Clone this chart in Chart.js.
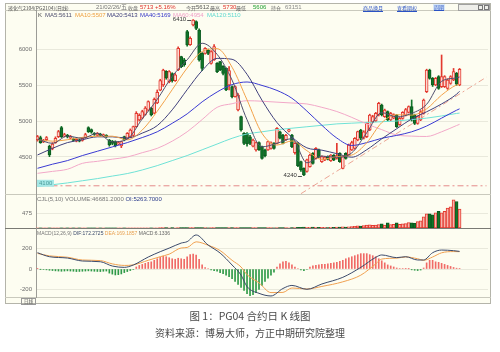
<!DOCTYPE html>
<html>
<head>
<meta charset="utf-8">
<title>PG04 合约日 K 线图</title>
<script src="https://cdn.jsdelivr.net/npm/chart.js@4.4.1/dist/chart.umd.min.js"></script>
<style>
  html, body { margin: 0; padding: 0; background: #fff; }
  body { width: 500px; height: 352px; position: relative; overflow: hidden;
         font-family: "Liberation Sans", Arial, "Noto Sans CJK SC", sans-serif; }
  #frame { position: absolute; left: 5px; top: 3px; width: 484px; height: 299px;
           border: 1px solid #b4b4aa; background: #fdfdf1; }
  .hl { position: absolute; left: 5px; width: 486px; height: 0; border-top: 1px solid #c9c9bd; }
  .hl.dark { border-top-color: #7a7a74; }
  canvas { position: absolute; left: 5px; }
  .t { position: absolute; white-space: nowrap; font-size: 6px; line-height: 6px; color: #666; }
  .c { font-family: "Noto Sans CJK SC", sans-serif; font-size: 5px; }
  .lnk { color: #2a52c4; text-decoration: underline; }
  .cap { position: absolute; left: 0; width: 500px; text-align: center; color: #4a4a4a;
         font-family: "Noto Sans CJK SC", sans-serif; white-space: nowrap; }
</style>
</head>
<body>
<div id="frame"></div>
<div class="hl" style="top:10px"></div>
<div class="hl" style="top:194px"></div>
<div class="hl dark" style="top:228px"></div>
<div class="hl" style="top:297px"></div>

<canvas id="price" width="485" height="184" style="top:10px"></canvas>
<canvas id="vol" width="485" height="34" style="top:194px"></canvas>
<canvas id="macd" width="485" height="75" style="top:228px"></canvas>

<!-- header row -->
<span class="t c" style="left:8px;top:4.5px;color:#555">液化气2104(PG2104)(日线)</span>
<span class="t" style="left:96px;top:4px;color:#777">21/02/26/五</span>
<span class="t c" style="left:128px;top:4.5px">收盘</span>
<span class="t" style="left:140px;top:4px;color:#e0302a">5713 +5.16%</span>
<span class="t c" style="left:186px;top:4.5px">今开</span>
<span class="t" style="left:196px;top:4px;color:#555">5612</span>
<span class="t c" style="left:210px;top:4.5px">最高</span>
<span class="t" style="left:223px;top:4px;color:#e0302a">5730</span>
<span class="t c" style="left:236px;top:4.5px">最低</span>
<span class="t" style="left:253px;top:4px;color:#22a035">5606</span>
<span class="t c" style="left:271px;top:4.5px">持仓</span>
<span class="t" style="left:285px;top:4px;color:#888">63151</span>
<span class="t c lnk" style="left:363px;top:4.5px">商品换月</span>
<span class="t c lnk" style="left:397px;top:4.5px">查看期权</span>
<span class="t c lnk" style="left:433px;top:4px;background:#d8e8f8;padding:0 1px">周期</span>
<div style="position:absolute;left:458px;top:4px;width:30px;height:5px;border:1px solid #a0a0a0;background:#eeeeea"></div>
<div style="position:absolute;left:478px;top:5px;width:3px;height:3px;border:1px solid #777"></div>
<div style="position:absolute;left:484px;top:5px;width:3px;height:3px;border:1px solid #777"></div>

<!-- MA legend -->
<span class="t" style="left:38px;top:12px;color:#444">K</span>
<span class="t" style="left:45px;top:12px;color:#4f4f6e">MA5:5611</span>
<span class="t" style="left:75px;top:12px;color:#efa040">MA10:5507</span>
<span class="t" style="left:107px;top:12px;color:#3d3d7a">MA20:5413</span>
<span class="t" style="left:140px;top:12px;color:#3636c8">MA40:5169</span>
<span class="t" style="left:173px;top:12px;color:#f0a0c8">MA60:4954</span>
<span class="t" style="left:207px;top:12px;color:#5fd8cf">MA120:5110</span>

<!-- panel titles -->
<span class="t" style="left:37px;top:195.5px;color:#777">CJL(5,10) VOLUME:46681.2000 <span style="color:#2b3b8b">OI:5263.7000</span></span>
<span class="t" style="left:37px;top:230px;font-size:5px;color:#777">MACD(12,26,9) <span style="color:#3b4a6b">DIF:172.2725</span> <span style="color:#e8a050">DEA:169.1857</span> <span style="color:#666">MACD:6.1336</span></span>
<div class="t c" style="left:21px;top:297.5px;width:13px;height:5px;line-height:5px;font-size:4.5px;border:1px solid #999;text-align:center;color:#555">日线</div>

<div class="cap" style="top:309px;font-size:10.5px;line-height:13px">图 1：PG04 合约日 K 线图</div>
<div class="cap" style="top:326px;font-size:10px;line-height:13px">资料来源：博易大师，方正中期研究院整理</div>

<script>
// ---- daily bars (142 trading days) ----
const open = [
  4740,4770,4710,4740,4653,4620,4700,4782,4907,4790,
  4800,4760,4750,4720,4740,4730,4770,4907,4880,4830,
  4800,4820,4790,4800,4736,4720,4713,4680,4653,4782,
  4759,4780,4800,4921,5014,5040,5090,5150,5176,5110,
  5250,5430,5500,5690,5547,5660,5560,5708,5894,5850,
  6241,6060,6334,6380,6264,5940,5940,5986,5801,5847,
  5801,5824,5760,5732,5500,5477,5338,5153,5060,4829,
  4829,4780,4650,4597,4700,4644,4600,4597,4620,4690,
  4690,4850,4806,4740,4860,4806,4560,4690,4435,4343,
  4300,4366,4551,4481,4600,4435,4460,4505,4450,4528,
  4480,4551,4343,4551,4528,4600,4620,4736,4875,4760,
  4782,4875,4991,5000,5083,5222,5060,5130,5014,5040,
  5083,4950,5037,5080,5120,5199,5083,4968,5014,5107,
  5407,5708,5593,5500,5616,5477,5477,5454,5523,5570,
  5662,5500];
const close = [
  4782,4700,4730,4770,4530,4680,4760,4852,4782,4810,
  4780,4790,4730,4745,4720,4760,4810,4852,4845,4815,
  4825,4800,4810,4780,4667,4690,4653,4700,4713,4736,
  4830,4875,4921,5107,5080,5130,5180,5269,5083,5300,
  5400,5560,5709,5600,5686,5560,5640,6010,5755,5780,
  6056,6150,6403,6287,5847,5732,6010,5940,5963,6033,
  5686,5709,5660,5431,5700,5338,5477,5361,4875,4690,
  4680,4690,4736,4700,4600,4481,4520,4713,4700,4620,
  4898,4760,4690,4800,4880,4644,4690,4380,4319,4250,
  4460,4528,4412,4620,4500,4505,4500,4470,4528,4460,
  4520,4435,4505,4481,4667,4700,4759,4852,4760,4850,
  4968,5083,5060,5107,5245,5083,5153,5014,5107,5090,
  4921,5037,5120,5160,5199,5014,4968,5060,5130,5292,
  5708,5593,5500,5593,5454,5616,5616,5570,5616,5685,
  5510,5718];
const high = [
  4800,4790,4745,4785,4665,4700,4780,4870,4925,4830,
  4815,4800,4765,4755,4750,4770,4830,4920,4890,4840,
  4840,4830,4820,4810,4745,4730,4725,4715,4720,4790,
  4840,4890,4930,5130,5100,5150,5200,5280,5190,5320,
  5431,5580,5720,5700,5700,5670,5660,6030,5900,5870,
  6260,6170,6410,6390,6280,5950,6020,6000,5980,6060,
  5810,5830,5770,5740,5755,5490,5490,5380,5070,4840,
  4840,4800,4750,4710,4710,4650,4610,4720,4710,4700,
  4910,4860,4815,4815,4895,4815,4700,4700,4445,4350,
  4470,4540,4560,4630,4610,4515,4510,4515,4535,4535,
  4690,4560,4515,4560,4680,4720,4770,4860,4885,4865,
  4980,5095,5080,5120,5260,5235,5165,5140,5120,5100,
  5090,5050,5130,5175,5210,5292,5095,5070,5145,5305,
  5720,5720,5605,5605,5630,5917,5630,5585,5630,5730,
  5675,5730];
const low = [
  4720,4690,4700,4725,4505,4600,4690,4770,4770,4780,
  4765,4750,4720,4710,4710,4720,4760,4840,4830,4800,
  4790,4790,4780,4770,4650,4670,4640,4670,4630,4725,
  4750,4770,4790,4910,5000,5030,5080,5140,5070,5100,
  5240,5420,5480,5580,5530,5540,5550,5700,5740,5760,
  6040,6050,6320,6270,5830,5700,5930,5920,5790,5840,
  5670,5700,5640,5420,5431,5320,5330,5140,4860,4670,
  4650,4670,4640,4580,4590,4470,4500,4590,4610,4610,
  4680,4750,4680,4730,4850,4630,4540,4366,4300,4240,
  4290,4360,4400,4470,4490,4425,4450,4460,4440,4450,
  4470,4425,4335,4470,4520,4590,4610,4725,4740,4750,
  4770,4865,4980,4990,5070,5070,5050,5000,5005,5030,
  4910,4940,5025,5070,5110,5000,4950,4955,5005,5095,
  5395,5580,5480,5490,5440,5465,5465,5440,5510,5560,
  5495,5490];
const volume = [
  5,4,4,5,7,4,4,5,6,4,
  4,4,3,4,4,4,5,6,5,4,
  4,4,4,4,6,5,6,4,5,5,
  6,6,7,9,7,7,8,9,7,8,
  9,10,12,10,9,10,9,14,12,10,
  13,11,14,12,15,12,10,9,10,11,
  10,10,11,14,12,11,10,11,14,13,
  12,12,10,10,11,13,11,10,10,9,
  14,11,10,10,9,12,13,18,20,28,
  24,22,26,20,22,18,20,17,19,18,
  30,28,34,26,40,48,55,70,62,75,
  90,100,85,95,110,130,95,160,110,120,
  160,120,130,140,170,160,150,200,230,350,
  450,450,420,480,530,480,530,630,670,890,
  840,600];
const macdHist = [
  3,-2,-5,-8,-12,-15,-18,-20,-22,-20,
  -18,-20,-22,-25,-24,-22,-20,-18,-20,-22,
  -24,-25,-22,-20,-40,-50,-58,-55,-48,-35,
  -25,-15,-5,20,35,45,55,65,70,85,
  100,115,125,120,110,100,95,105,100,95,
  120,140,145,135,95,40,15,5,-10,-15,
  -20,-35,-45,-60,-75,-95,-120,-150,-180,-210,
  -240,-260,-250,-230,-200,-160,-120,-90,-60,-30,
  20,50,70,75,60,40,20,5,-10,-15,
  -5,20,30,35,40,45,45,50,55,60,
  65,75,85,100,110,120,130,140,150,150,
  150,140,130,120,100,80,60,40,30,20,
  10,5,5,3,2,-8,-12,-15,-10,10,
  60,85,85,70,65,55,45,35,25,15,
  8,6];

// moving averages, read every 5th bar
const maAt   = [0,5,10,15,20,25,30,35,40,45,50,55,60,65,70,75,80,85,90,95,100,105,110,115,120,125,130,135,140,141];
const ma5    = [4750,4690,4790,4760,4830,4710,4750,5030,5300,5620,5850,6080,5926,5568,5017,4641,4690,4755,4420,4513,4496,4558,4838,5116,5057,5106,5232,5551,5599,5611];
const ma10   = [4740,4720,4740,4773,4789,4789,4738,4875,5135,5435,5736,5966,6005,5747,5293,4829,4666,4723,4588,4467,4505,4527,4698,4977,5087,5082,5169,5360,5500,5507];
const ma20   = [4528,4620,4700,4740,4780,4780,4763,4832,4936,5155,5435,5700,5870,5857,5649,5288,4979,4776,4627,4595,4546,4497,4601,4752,4892,5029,5128,5237,5372,5413];
const ma40   = [4343,4400,4450,4520,4580,4640,4700,4770,4850,4968,5099,5266,5403,5506,5542,5494,5425,5316,5138,4941,4763,4660,4700,4760,4800,4850,4930,5040,5150,5169];
const ma60   = [4273,4300,4330,4412,4440,4470,4500,4560,4620,4720,4850,5020,5190,5240,5282,5275,5262,5250,5237,5190,5132,5050,4959,4880,4806,4790,4785,4850,4937,4954];
const ma120  = [4090,4115,4140,4170,4200,4235,4270,4320,4380,4450,4520,4600,4680,4760,4820,4850,4880,4900,4920,4940,4960,4970,4980,4990,5000,5020,5040,5070,5105,5110];

// MACD lines
const macdAt = [0,4,10,15,21,25,29,32,37,41,44,48,50,53,57,61,65,68,70,74,78,82,85,90,95,102,108,113,115,120,123,127,129,132,135,139,141];
const dif    = [159,120,107,78,71,29,16,39,117,169,204,253,267,332,234,156,39,-59,-172,-237,-263,-190,-160,-198,-146,-81,16,114,137,111,120,88,88,159,185,179,172];
const dea    = [152,128,115,88,82,50,35,40,85,120,145,205,210,265,232,180,85,20,-55,-135,-230,-228,-185,-195,-170,-125,-60,50,97,106,118,100,85,117,158,170,169];

// drawn lines: support level and rising trend line
const levelAt = [0, 150];
const levelVal = [4100, 4100];
const trendAt = [88, 150];
const trendVal = [3990, 5610];

// axis ticks
const priceTicks = [4500, 5000, 5500, 6000];
const volTicks = [475];
const macdTicks = [-200, 0, 200];
const monthAt = [0, 30, 50, 66, 87, 108, 129];
const monthText = ['2020/07', '09', '10', '11', '12', '2021/01', '02'];

const N = 151; // 142 bars plus empty room on the right
const slots = Array.from({ length: N }, (_, i) => String(i));

function spread(at, vals) {
  const out = new Array(N).fill(null);
  at.forEach((i, k) => { out[i] = vals[k]; });
  return out;
}
const isUp = i => close[i] >= open[i];
const RED = '#e3392e', RED_FILL = '#fcd8d1', GREEN = '#107529', GREEN_EDGE = '#0a5a1e';

Chart.defaults.font.family = '"Liberation Sans", Arial, sans-serif';
Chart.defaults.color = '#6b6b6b';

// fixed axis width, and no extra room reserved for the end labels
const yFit = s => { s.width = 31; s.paddingTop = 0; s.paddingBottom = 0; };
const base = {
  responsive: false,
  animation: false,
  events: [],
  layout: { padding: { left: 0, right: 2, top: 0, bottom: 0 } },
  plugins: { legend: { display: false }, tooltip: { enabled: false } }
};
const yAxis = (min, max, ticks) => ({
  min: min, max: max,
  afterFit: yFit,
  afterBuildTicks: s => { s.ticks = ticks.map(v => ({ value: v })); },
  ticks: { callback: v => String(v), font: { size: 6 }, color: '#6b6b6b', padding: 4 },
  grid: { color: '#e9e9dc', drawTicks: false },
  border: { color: '#9c9c96' }
});

function maLine(vals, color) {
  return {
    type: 'line', data: spread(maAt, vals), borderColor: color, borderWidth: 1,
    pointRadius: 0, spanGaps: true, cubicInterpolationMode: 'monotone', order: 0
  };
}

// high / low tags and the level tag
const priceNotes = {
  id: 'priceNotes',
  afterDatasetsDraw(chart) {
    const { ctx, chartArea, scales: { x, y } } = chart;
    ctx.save();
    ctx.font = '6px "Liberation Sans", Arial, sans-serif';
    ctx.textBaseline = 'middle';
    ctx.strokeStyle = '#555';
    ctx.lineWidth = 1;
    [[52, high[52]], [89, low[89]]].forEach(([i, v]) => {
      const px = x.getPixelForValue(i), py = y.getPixelForValue(v);
      ctx.fillStyle = '#333';
      ctx.textAlign = 'right';
      ctx.fillText(String(v), px - 7, py);
      ctx.beginPath();
      ctx.moveTo(px - 6, Math.round(py) + 0.5);
      ctx.lineTo(px - 2, Math.round(py) + 0.5);
      ctx.stroke();
    });
    const ly = y.getPixelForValue(levelVal[0]);
    ctx.fillStyle = '#a6e8e6';
    ctx.fillRect(chartArea.left + 1, ly - 6, 17, 7);
    ctx.fillStyle = '#4a9c9a';
    ctx.textAlign = 'left';
    ctx.fillText(String(levelVal[0]), chartArea.left + 3, ly - 2.5);
    ctx.restore();
  }
};

new Chart(document.getElementById('price'), {
  type: 'bar',
  data: {
    labels: slots,
    datasets: [
      maLine(ma5, '#4f4f6e'),
      maLine(ma10, '#f2a24a'),
      maLine(ma20, '#40407c'),
      maLine(ma40, '#3a3ad2'),
      maLine(ma60, '#f2a8c8'),
      maLine(ma120, '#6fe2d6'),
      {
        type: 'bar', data: open.map((o, i) => [o, close[i]]),
        barThickness: 3, grouped: false, borderWidth: 1, borderSkipped: false,
        backgroundColor: c => isUp(c.dataIndex) ? RED_FILL : GREEN,
        borderColor: c => isUp(c.dataIndex) ? RED : GREEN_EDGE,
        order: 1
      },
      {
        type: 'bar', data: low.map((l, i) => [l, high[i]]),
        barThickness: 1, grouped: false, borderWidth: 0,
        backgroundColor: c => isUp(c.dataIndex) ? RED : GREEN,
        order: 2
      },
      {
        type: 'line', data: spread(levelAt, levelVal), borderColor: '#e48a8a', borderWidth: 1,
        borderDash: [6, 3, 2, 3], pointRadius: 0, spanGaps: true, order: 3
      },
      {
        type: 'line', data: spread(trendAt, trendVal), borderColor: '#eba594', borderWidth: 1,
        borderDash: [6, 3, 2, 3], pointRadius: 0, spanGaps: true, order: 3
      }
    ]
  },
  options: Object.assign({}, base, {
    scales: {
      x: { type: 'category', offset: true, display: false },
      y: yAxis(3986, 6542, priceTicks)
    }
  }),
  plugins: [priceNotes]
});

new Chart(document.getElementById('vol'), {
  type: 'bar',
  data: {
    labels: slots,
    datasets: [{
      data: volume, barThickness: 3, borderWidth: 1, borderSkipped: false,
      backgroundColor: c => isUp(c.dataIndex) ? '#f6b4ab' : GREEN,
      borderColor: c => isUp(c.dataIndex) ? RED : GREEN_EDGE
    }]
  },
  options: Object.assign({}, base, {
    scales: {
      x: { type: 'category', offset: true, display: false },
      y: yAxis(0, 1077, volTicks)
    }
  })
});

new Chart(document.getElementById('macd'), {
  type: 'bar',
  data: {
    labels: slots,
    datasets: [
      {
        type: 'line', data: spread(macdAt, dif), borderColor: '#3b4a6b', borderWidth: 1,
        pointRadius: 0, spanGaps: true, cubicInterpolationMode: 'monotone', order: 0
      },
      {
        type: 'line', data: spread(macdAt, dea), borderColor: '#f0a050', borderWidth: 1,
        pointRadius: 0, spanGaps: true, cubicInterpolationMode: 'monotone', order: 0
      },
      {
        type: 'bar', data: macdHist, barThickness: 1, grouped: false,
        backgroundColor: c => macdHist[c.dataIndex] >= 0 ? '#f06a66' : '#2f9a48',
        order: 1
      }
    ]
  },
  options: Object.assign({}, base, {
    scales: {
      x: {
        type: 'category', offset: true,
        afterFit: s => { s.height = 6; s.paddingLeft = 0; s.paddingRight = 0; },
        afterBuildTicks: s => { s.ticks = monthAt.map(v => ({ value: v })); },
        ticks: {
          autoSkip: false, maxRotation: 0, align: 'start', padding: 0,
          font: { size: 5.5 }, color: '#6b6b6b',
          callback: v => monthText[monthAt.indexOf(v)]
        },
        grid: { display: false },
        border: { display: false }
      },
      y: yAxis(-273, 400, macdTicks)
    }
  })
});
</script>
</body>
</html>
